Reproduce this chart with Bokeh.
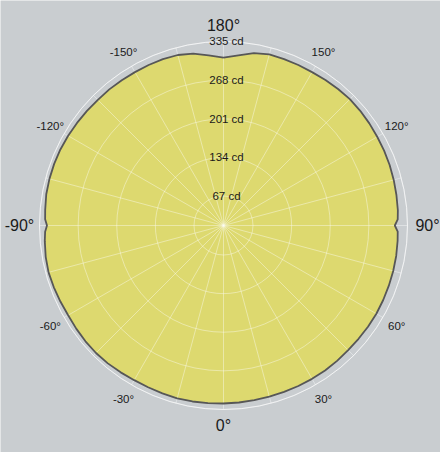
import numpy as np
from bokeh.plotting import figure
from bokeh.models import Range1d, ColumnDataSource
from bokeh.embed import file_html
from bokeh.resources import INLINE
from bokeh.core.properties import value

# ---- data (luminous intensity, cd, vs. angle, degrees; 0 = down) ----
angles_deg = [-180, -175, -170, -165, -160, -155, -150, -145, -140, -135, -130, -125,
              -120, -115, -110, -105, -100, -95, -92, -90, -88, -85, -80, -75, -70,
              -65, -60, -55, -50, -45, -40, -35, -30, -25, -20, -15, -10, -5, 0,
              5, 10, 15, 20, 25, 30, 35, 40, 45, 50, 55, 60, 65, 70, 75, 80, 85, 88,
              90, 92, 95, 100, 105, 110, 115, 120, 125, 130, 135, 140, 145, 150,
              155, 160, 165, 170, 175]
intensity_cd = [307, 312, 318.5, 322, 323, 323, 323, 323.4, 324, 324, 325, 326,
                327, 328, 328.4, 328.4, 328, 326.3, 325.4, 322, 325.4, 327, 329, 330, 329,
                328, 327, 327.7, 328.4, 328.6, 328, 326.8, 325.6, 325.4, 325.8, 326.3, 325.8, 325, 324.6,
                324, 323.4, 323, 323, 323, 323, 323, 322.3, 321.6, 321.6, 321.8, 322, 321.5, 321, 320.6, 320, 319, 318.2,
                313, 318.2, 319.4, 320.4, 321.5, 322.5, 323.2, 323.7, 324.6, 325.4, 325.8, 324.9, 324.1, 323,
                323, 323, 323, 319.4, 312]

ring_values = [67, 134, 201, 268, 335]
ring_labels = ["67 cd", "134 cd", "201 cd", "268 cd", "335 cd"]
spoke_angles = list(range(-180, 180, 15))
major_label_angles = [0, 90, 180, -90]
major_label_text = ["0°", "90°", "180°", "-90°"]
minor_label_angles = [30, 60, 120, 150, -150, -120, -60, -30]
minor_label_text = ["30°", "60°", "120°", "150°", "-150°", "-120°", "-60°", "-30°"]

# ---- geometry ----
R0 = 15.8           # cd value at the centre of the diagram
S = 1.7347          # cd per pixel
W, H = 440, 452
CX, CY = 223, 225   # centre in figure pixels (from left / from top)


def to_xy(theta_deg, v):
    t = np.radians(np.asarray(theta_deg, dtype=float))
    d = np.asarray(v, dtype=float) - R0
    return d * np.sin(t), -d * np.cos(t)


p = figure(width=W, height=H, output_backend="svg", toolbar_location=None,
           x_range=Range1d(-CX * S, (W - CX) * S),
           y_range=Range1d(-(H - CY) * S, CY * S),
           min_border=0)
p.axis.visible = False
p.grid.visible = False
p.outline_line_color = None
bg = "#c9cdd0"
p.background_fill_color = bg
p.border_fill_color = bg

# filled distribution
xs, ys = to_xy(angles_deg, intensity_cd)
p.patch(list(xs), list(ys), fill_color="#ddd96f", line_color=None)

# grid rings
outer = ring_values[-1] - R0
p.circle(x=[0] * len(ring_values), y=[0] * len(ring_values),
         radius=[v - R0 for v in ring_values[:-1]] + [outer],
         fill_color=None, line_color="white", line_alpha=0.4, line_width=1)
# spokes
sx, sy = to_xy(spoke_angles, [ring_values[-1]] * len(spoke_angles))
p.segment(x0=[0] * len(spoke_angles), y0=[0] * len(spoke_angles), x1=list(sx), y1=list(sy),
          line_color="white", line_alpha=0.4, line_width=1)
# brighter outer circle
p.circle(x=[0], y=[0], radius=[outer], fill_color=None, line_color="white",
         line_alpha=0.6, line_width=1)

# outline
p.line(list(xs) + [xs[0]], list(ys) + [ys[0]], line_color="#575757", line_width=1.8)

# ring labels
rl = ColumnDataSource(dict(x=[3 * S] * len(ring_values),
                           y=[v - R0 for v in ring_values], t=ring_labels))
p.text(x="x", y="y", text="t", source=rl, text_align="center", text_baseline="middle",
       text_font=value("Liberation Sans"), text_font_size="11.5px", text_color="#1a1a1a")

# angle labels
LR = 200 * S + R0
LRH = 204 * S + R0
mx, my = to_xy(major_label_angles, [LR, LRH, LR, LRH])
p.text(x=list(mx), y=list(my), text=major_label_text, text_align="center",
       text_baseline="middle", text_font=value("Liberation Sans"),
       text_font_size="16px", text_color="#1a1a1a")
nx, ny = to_xy(minor_label_angles, [LR] * len(minor_label_angles))
p.text(x=list(nx), y=list(ny), text=minor_label_text, text_align="center",
       text_baseline="middle", text_font=value("Liberation Sans"),
       text_font_size="11.5px", text_color="#1a1a1a")

open("out.html", "w").write(file_html(p, INLINE))
